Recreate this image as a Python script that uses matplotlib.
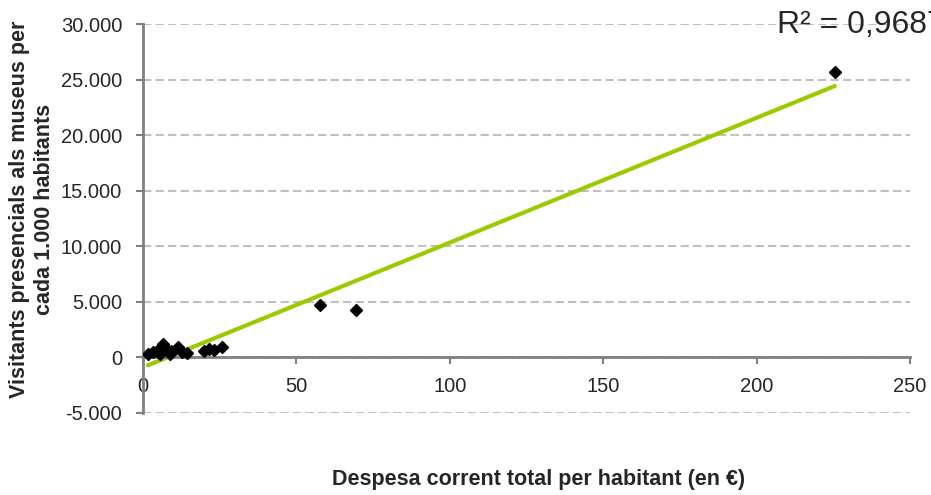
import numpy as np
import matplotlib
matplotlib.use("Agg")
import matplotlib.pyplot as plt
from matplotlib.ticker import FuncFormatter

plt.rcParams['font.family'] = ['Liberation Sans', 'DejaVu Sans']

despesa = [1.6, 3.3, 4.6, 5.5, 6.5, 7.8, 8.8, 9.1, 11.4, 12.7, 14.3, 19.9, 21.5, 23.1, 25.7, 57.7, 69.4, 225.5]
visitants = [270, 450, 540, 270, 1170, 630, 270, 540, 900, 450, 360, 540, 720, 630, 900, 4680, 4230, 25720]
r2_text = "R² = 0,9687"
y_ticks = [-5000, 0, 5000, 10000, 15000, 20000, 25000, 30000]
x_ticks = [0, 50, 100, 150, 200, 250]

fig = plt.figure(figsize=(9.31, 4.95), dpi=100)
ax = fig.add_axes([143/931, 1-413/495, (910-143)/931, (413-24)/495])

x = np.array(despesa)
y = np.array(visitants)
slope, inter = np.polyfit(x, y, 1)
xl = np.array([x.min(), x.max()])
ax.plot(xl, slope*xl + inter, color='#99cc00', lw=3, solid_capstyle='round', zorder=2)
ax.plot(x, y, linestyle='none', marker='D', markersize=6.5, color='black', zorder=3)

ax.set_xlim(0, 250)
ax.set_ylim(-5000, 30000)
ax.set_yticks(y_ticks)
ax.set_xticks(x_ticks)
ax.yaxis.set_major_formatter(FuncFormatter(lambda v, p: f"{int(v):,}".replace(",", ".")))
ax.grid(axis='y', color='#c0c0c0', linestyle=(0, (4, 2)), lw=1.5, zorder=0)
ax.grid(axis='x', visible=False)

for s in ['top', 'right']:
    ax.spines[s].set_visible(False)
ax.spines['bottom'].set_position(('data', 0))
ax.spines['bottom'].set_color('#808080')
ax.spines['bottom'].set_linewidth(2)
ax.spines['left'].set_color('#808080')
ax.spines['left'].set_linewidth(2)
ax.tick_params(axis='both', colors='#808080', labelcolor='#262626', labelsize=14.5, width=1.5, length=5)
ax.tick_params(axis='x', pad=9)
ax.tick_params(axis='y', pad=10)

fig.text(32/931, 1-209/495, "Visitants presencials als museus per\ncada 1.000 habitants", fontsize=15.5,
         fontweight='bold', color='#262626', rotation=90, ha='center', va='center',
         multialignment='center', linespacing=1.2)
fig.text(539/931, 1-480/495, "Despesa corrent total per habitant (en €)", fontsize=15.5, fontweight='bold',
         color='#262626', ha='center', va='center')

fig.text(777/931, 1-25/495, r2_text, fontsize=23, color='#262626', ha='left', va='center')

fig.savefig("out.png", dpi=100)
